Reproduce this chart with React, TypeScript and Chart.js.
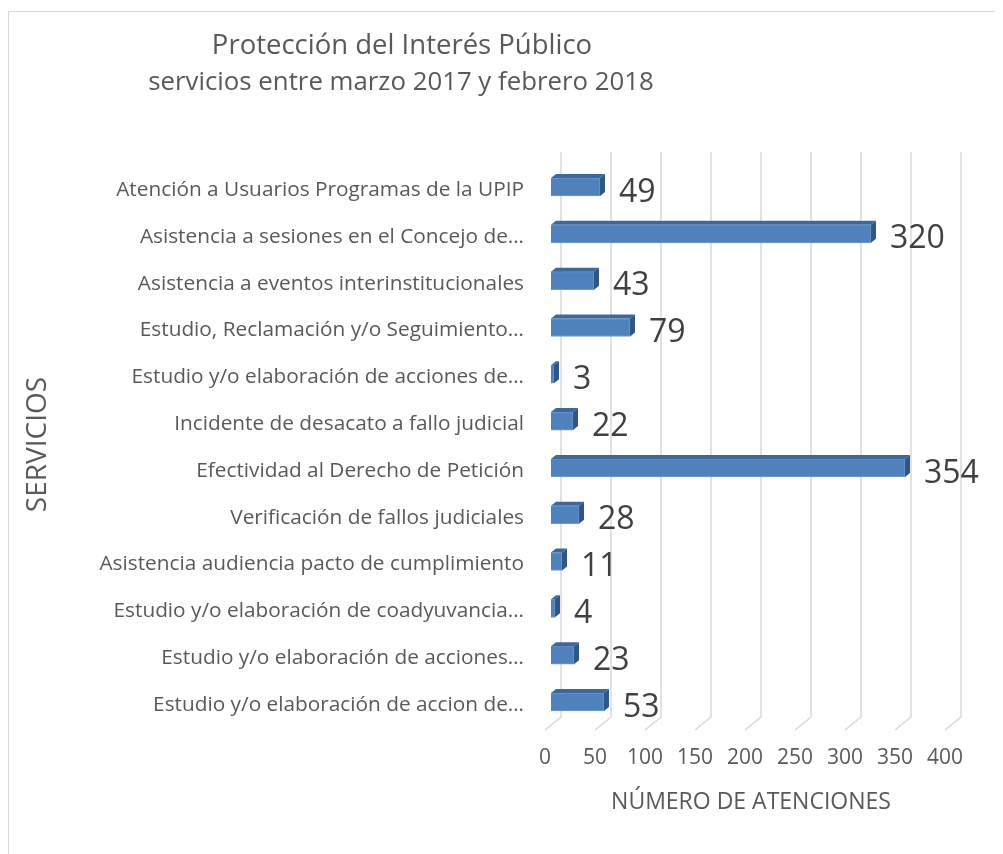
import React, { useEffect, useRef } from "react";
import { Chart, registerables } from "chart.js";

Chart.register(...registerables);

const titleLines = [
  "Protección del Interés Público",
  "servicios entre marzo 2017 y febrero 2018",
];

const categories = [
  "Atención a Usuarios Programas de la UPIP",
  "Asistencia a sesiones en el Concejo de…",
  "Asistencia a eventos interinstitucionales",
  "Estudio, Reclamación y/o Seguimiento…",
  "Estudio y/o elaboración de acciones de…",
  "Incidente de desacato a fallo judicial",
  "Efectividad al Derecho de Petición",
  "Verificación de fallos judiciales",
  "Asistencia audiencia pacto de cumplimiento",
  "Estudio y/o elaboración de coadyuvancia…",
  "Estudio y/o elaboración de acciones…",
  "Estudio y/o elaboración de accion de…",
];

const values = [49, 320, 43, 79, 3, 22, 354, 28, 11, 4, 23, 53];

const xMin = 0;
const xMax = 400;
const xStep = 50;

const xAxisTitle = "NÚMERO DE ATENCIONES";
const yAxisTitle = "SERVICIOS";

const FONT = "'Open Sans', sans-serif";
const TEXT = "#595959";
const FRONT = "#4F81BD";
const TOP = "#3F6798";
const SIDE = "#2F5688";
const GRID = "#D9D9D9";
const DX = 5;
const DY = 4;

const decorPlugin = {
  id: "decor",
  beforeDraw(chart: any) {
    const { ctx, width, height } = chart;
    ctx.save();
    ctx.fillStyle = "#ffffff";
    ctx.fillRect(0, 0, width, height);
    ctx.strokeStyle = GRID;
    ctx.lineWidth = 1;
    ctx.strokeRect(0.5, 3.5, width + 20, height + 20);
    // title
    ctx.fillStyle = TEXT;
    ctx.textAlign = "center";
    ctx.textBaseline = "middle";
    ctx.font = `27.5px ${FONT}`;
    ctx.fillText(titleLines[0], 394, 38);
    ctx.font = `25.8px ${FONT}`;
    ctx.fillText(titleLines[1], 393, 74.5);
    ctx.restore();
  },
  beforeDatasetsDraw(chart: any) {
    const { ctx, chartArea, scales } = chart;
    const xs = scales.x;
    ctx.save();
    ctx.strokeStyle = GRID;
    ctx.lineWidth = 1.5;
    for (let v = xMin; v <= xMax; v += xStep) {
      const px = xs.getPixelForValue(v);
      ctx.beginPath();
      ctx.moveTo(px + 10, chartArea.top - 11.6);
      ctx.lineTo(px + 10, chartArea.bottom - 8.4);
      ctx.lineTo(px - 6, chartArea.bottom + 4.6);
      ctx.stroke();
    }
    ctx.restore();
  },
  afterDatasetsDraw(chart: any) {
    const { ctx } = chart;
    const meta = chart.getDatasetMeta(0);
    ctx.save();
    meta.data.forEach((el: any, i: number) => {
      const { x, y, base, height } = el.getProps(["x", "y", "base", "height"], true);
      const top = y - height / 2;
      const bottom = y + height / 2;
      // top face
      ctx.fillStyle = TOP;
      ctx.beginPath();
      ctx.moveTo(base, top);
      ctx.lineTo(base + DX, top - DY);
      ctx.lineTo(x + DX, top - DY);
      ctx.lineTo(x, top);
      ctx.closePath();
      ctx.fill();
      // side face
      ctx.fillStyle = SIDE;
      ctx.beginPath();
      ctx.moveTo(x, top);
      ctx.lineTo(x + DX, top - DY);
      ctx.lineTo(x + DX, bottom - DY);
      ctx.lineTo(x, bottom);
      ctx.closePath();
      ctx.fill();
      // data label
      ctx.fillStyle = "#404040";
      ctx.font = `32px ${FONT}`;
      ctx.textAlign = "left";
      ctx.textBaseline = "middle";
      ctx.fillText(String(values[i]), x + 19, y + 5.5);
    });
    ctx.restore();
  },
};

export default function App() {
  const ref = useRef<HTMLCanvasElement | null>(null);

  useEffect(() => {
    document.body.style.overflow = "hidden";
    const canvas = ref.current;
    if (!canvas) return;
    const chart = new Chart(canvas, {
      type: "bar",
      data: {
        labels: categories,
        datasets: [
          {
            data: values,
            backgroundColor: FRONT,
            borderColor: "#6F9AD0",
            borderWidth: 1,
            barThickness: 18,
          },
        ],
      },
      options: {
        indexAxis: "y",
        animation: false,
        responsive: false,
        maintainAspectRatio: false,
        layout: { padding: { top: 155.6, left: 0, right: 52, bottom: 0 } },
        plugins: {
          legend: { display: false },
          title: { display: false },
          tooltip: { enabled: false },
        },
        scales: {
          x: {
            type: "linear",
            min: xMin,
            max: xMax,
            ticks: {
              stepSize: xStep,
              labelOffset: -6,
              padding: 20,
              color: TEXT,
              font: { family: FONT, size: 21 },
            },
            grid: { display: false, drawTicks: false },
            border: { display: false },
            title: {
              display: true,
              text: xAxisTitle,
              color: TEXT,
              font: { family: FONT, size: 23 },
              padding: { top: 0, bottom: 38.2 },
            },
            afterFit: (s: any) => {
              s.height = 128.6;
            },
          },
          y: {
            type: "category",
            ticks: {
              padding: 27,
              labelOffset: 3,
              color: TEXT,
              font: { family: FONT, size: 20.8 },
            },
            grid: { display: false, drawTicks: false },
            border: { display: false },
            title: {
              display: true,
              text: yAxisTitle,
              color: TEXT,
              font: { family: FONT, size: 28 },
              padding: { top: 13.2, bottom: 0 },
            },
            afterFit: (s: any) => {
              s.width = 543;
            },
          },
        },
      },
      plugins: [decorPlugin],
    });
    return () => chart.destroy();
  }, []);

  return (
    <div style={{ width: 995, height: 846 }}>
      <canvas ref={ref} width={995} height={846} style={{ width: 995, height: 846, display: "block" }} />
    </div>
  );
}
